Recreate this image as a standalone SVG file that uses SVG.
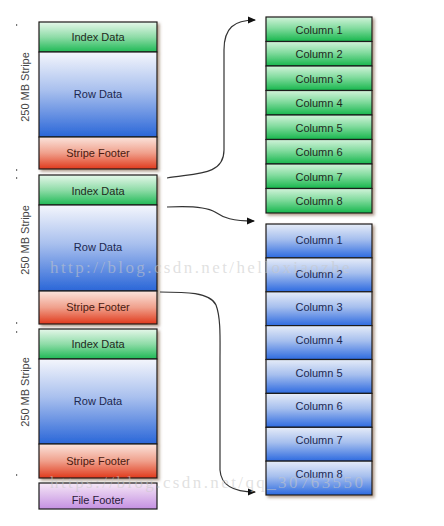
<svg xmlns="http://www.w3.org/2000/svg" width="444" height="526" viewBox="0 0 444 526">
<style>
.lbl{font-family:"Liberation Sans",Arial,sans-serif;font-size:11px;text-anchor:middle;dominant-baseline:central}
.dk{fill:#1e2a1e}
.bl{fill:#1c2850}
.rd{fill:#4a1a10}
.side{font-family:"Liberation Sans",Arial,sans-serif;font-size:11px;fill:#444;text-anchor:middle;dominant-baseline:central}
.box{stroke:#1a1a1a;stroke-width:1.2}
.conn{fill:none;stroke:#333;stroke-width:1.2}
.wm{font-family:"Liberation Serif","DejaVu Serif",serif;font-size:17px;fill:#c8c8c8;fill-opacity:0.55;letter-spacing:2.4px}
</style>
<defs>
<linearGradient id="gIdx" x1="0" y1="0" x2="0" y2="1"><stop offset="0" stop-color="#e6f7ea"/><stop offset="0.5" stop-color="#8fdca8"/><stop offset="1" stop-color="#1eb955"/></linearGradient>
<linearGradient id="gRow" x1="0" y1="0" x2="0" y2="1"><stop offset="0" stop-color="#f4f6fc"/><stop offset="0.45" stop-color="#a9c0ee"/><stop offset="1" stop-color="#2a66d8"/></linearGradient>
<linearGradient id="gFoot" x1="0" y1="0" x2="0" y2="1"><stop offset="0" stop-color="#fbe4dc"/><stop offset="0.5" stop-color="#f0a08c"/><stop offset="1" stop-color="#e03a1c"/></linearGradient>
<linearGradient id="gFile" x1="0" y1="0" x2="0" y2="1"><stop offset="0" stop-color="#f6e8f6"/><stop offset="1" stop-color="#c490e2"/></linearGradient>
<linearGradient id="gColG" x1="0" y1="0" x2="0" y2="1"><stop offset="0" stop-color="#d2f3da"/><stop offset="0.45" stop-color="#84dca0"/><stop offset="1" stop-color="#16b64c"/></linearGradient>
<linearGradient id="gColB" x1="0" y1="0" x2="0" y2="1"><stop offset="0" stop-color="#e6ecf8"/><stop offset="0.45" stop-color="#a6bfee"/><stop offset="1" stop-color="#2d6ae0"/></linearGradient>
<filter id="sh" x="-10%" y="-5%" width="125%" height="115%"><feDropShadow dx="2" dy="2" stdDeviation="1.5" flood-color="#7a5a40" flood-opacity="0.6"/></filter>
<marker id="ah" markerWidth="8" markerHeight="8" refX="7" refY="4" orient="auto" markerUnits="userSpaceOnUse"><path d="M0,0.5 L8,4 L0,7.5 Z" fill="#111"/></marker>
</defs>
<rect width="444" height="526" fill="#ffffff"/>

<g id="ticks" fill="#777">
<rect x="16" y="24" width="1.2" height="2"/>
<rect x="16" y="169" width="1.2" height="2"/>
<rect x="16" y="177" width="1.2" height="2"/>
<rect x="16" y="322" width="1.2" height="2"/>
<rect x="16" y="331" width="1.2" height="2"/>
<rect x="16" y="474" width="1.2" height="2"/>
</g>

<g id="stripe1" filter="url(#sh)">
<rect class="box" x="39" y="22" width="118" height="30" fill="url(#gIdx)"/>
<rect class="box" x="39" y="52" width="118" height="85" fill="url(#gRow)"/>
<rect class="box" x="39" y="137" width="118" height="32" fill="url(#gFoot)"/>
</g>
<g id="stripe1-text">
<text class="lbl dk" x="98" y="37">Index Data</text>
<text class="lbl bl" x="98" y="94">Row Data</text>
<text class="lbl rd" x="98" y="153">Stripe Footer</text>
<text class="side" transform="translate(25,87) rotate(-90)">250 MB Stripe</text>
</g>

<g id="stripe2" filter="url(#sh)">
<rect class="box" x="39" y="175" width="118" height="30" fill="url(#gIdx)"/>
<rect class="box" x="39" y="205" width="118" height="86" fill="url(#gRow)"/>
<rect class="box" x="39" y="291" width="118" height="33" fill="url(#gFoot)"/>
</g>
<g id="stripe2-text">
<text class="lbl dk" x="98" y="191">Index Data</text>
<text class="lbl bl" x="98" y="247">Row Data</text>
<text class="lbl rd" x="98" y="307">Stripe Footer</text>
<text class="side" transform="translate(25,240) rotate(-90)">250 MB Stripe</text>
</g>

<g id="stripe3" filter="url(#sh)">
<rect class="box" x="39" y="329" width="118" height="30" fill="url(#gIdx)"/>
<rect class="box" x="39" y="359" width="118" height="85" fill="url(#gRow)"/>
<rect class="box" x="39" y="444" width="118" height="34" fill="url(#gFoot)"/>
</g>
<g id="stripe3-text">
<text class="lbl dk" x="98" y="344">Index Data</text>
<text class="lbl bl" x="98" y="401">Row Data</text>
<text class="lbl rd" x="98" y="461">Stripe Footer</text>
<text class="side" transform="translate(25,392) rotate(-90)">250 MB Stripe</text>
</g>

<g id="file-footer">
<rect x="39" y="483" width="118" height="26" fill="url(#gFile)" stroke="#1a1a1a" stroke-width="1.2"/>
<text class="lbl" x="98" y="500" fill="#2a1a3a">File Footer</text>
</g>

<g id="green-columns" filter="url(#sh)">
<rect class="box" x="266" y="17" width="106" height="24.5" fill="url(#gColG)"/>
<rect class="box" x="266" y="41.5" width="106" height="24.5" fill="url(#gColG)"/>
<rect class="box" x="266" y="66" width="106" height="24.5" fill="url(#gColG)"/>
<rect class="box" x="266" y="90.5" width="106" height="24.5" fill="url(#gColG)"/>
<rect class="box" x="266" y="115" width="106" height="24.5" fill="url(#gColG)"/>
<rect class="box" x="266" y="139.5" width="106" height="24.5" fill="url(#gColG)"/>
<rect class="box" x="266" y="164" width="106" height="24.5" fill="url(#gColG)"/>
<rect class="box" x="266" y="188.5" width="106" height="24.5" fill="url(#gColG)"/>
</g>
<g id="green-columns-text">
<text class="lbl dk" x="319" y="29.5">Column 1</text>
<text class="lbl dk" x="319" y="54">Column 2</text>
<text class="lbl dk" x="319" y="78.5">Column 3</text>
<text class="lbl dk" x="319" y="103">Column 4</text>
<text class="lbl dk" x="319" y="127.5">Column 5</text>
<text class="lbl dk" x="319" y="152">Column 6</text>
<text class="lbl dk" x="319" y="176.5">Column 7</text>
<text class="lbl dk" x="319" y="201">Column 8</text>
</g>

<g id="blue-columns" filter="url(#sh)">
<rect class="box" x="266" y="224" width="106" height="33.9" fill="url(#gColB)"/>
<rect class="box" x="266" y="257.9" width="106" height="33.9" fill="url(#gColB)"/>
<rect class="box" x="266" y="291.8" width="106" height="33.9" fill="url(#gColB)"/>
<rect class="box" x="266" y="325.6" width="106" height="33.9" fill="url(#gColB)"/>
<rect class="box" x="266" y="359.5" width="106" height="33.9" fill="url(#gColB)"/>
<rect class="box" x="266" y="393.4" width="106" height="33.9" fill="url(#gColB)"/>
<rect class="box" x="266" y="427.3" width="106" height="33.9" fill="url(#gColB)"/>
<rect class="box" x="266" y="461.1" width="106" height="33.9" fill="url(#gColB)"/>
</g>
<g id="blue-columns-text">
<text class="lbl bl" x="319" y="240">Column 1</text>
<text class="lbl bl" x="319" y="274">Column 2</text>
<text class="lbl bl" x="319" y="307">Column 3</text>
<text class="lbl bl" x="319" y="340">Column 4</text>
<text class="lbl bl" x="319" y="373">Column 5</text>
<text class="lbl bl" x="319" y="406">Column 6</text>
<text class="lbl bl" x="319" y="440">Column 7</text>
<text class="lbl bl" x="319" y="474">Column 8</text>
</g>

<g id="connectors">
<path class="conn" marker-end="url(#ah)" d="M167,178 C195,173 224,176 224,150 L224,50 C224,28 234,20 255,20"/>
<path class="conn" marker-end="url(#ah)" d="M167,207 C185,206 205,206 215,212 C224,218 232,221 254,221"/>
<path class="conn" marker-end="url(#ah)" d="M160,292 C185,292 210,292 216,305 C221,318 220,340 220,360 L220,470 C221,485 232,492 255,492"/>
</g>

<g id="watermarks">
<text class="wm" x="50" y="273">http://blog.csdn.net/helloxiaozhe</text>
<text class="wm" x="50" y="488">https://blog.csdn.net/qq_30763550</text>
</g>
</svg>
